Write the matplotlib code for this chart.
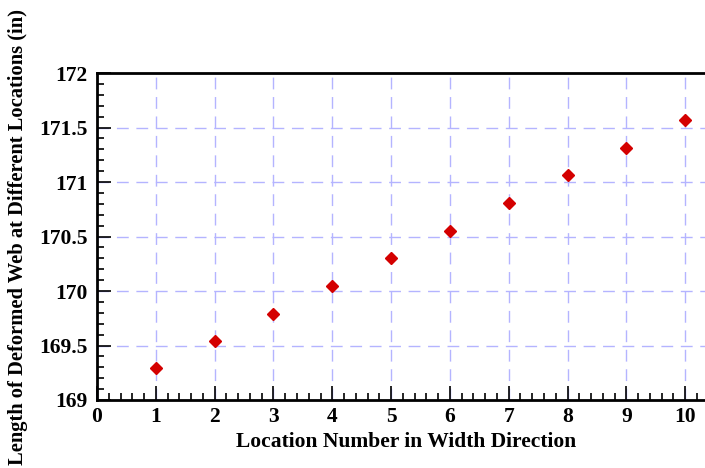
import matplotlib
matplotlib.use("Agg")
import matplotlib.pyplot as plt
from matplotlib.ticker import MultipleLocator

locations = [1, 2, 3, 4, 5, 6, 7, 8, 9, 10]
web_length = [169.29, 169.54, 169.79, 170.05, 170.30, 170.55, 170.81, 171.06, 171.31, 171.57]

plt.rcParams["font.family"] = ["Liberation Serif", "DejaVu Serif"]
plt.rcParams["font.weight"] = "bold"

fig = plt.figure(figsize=(7.05, 4.68), dpi=100)
ax = fig.add_axes([0.1376, 0.1453, 0.876, 0.6987])

ax.plot(locations, web_length, linestyle="none", marker="D", markersize=6,
        color="#d40000", markeredgecolor="#d40000", zorder=3)

ax.set_xlim(0, 10.5)
ax.set_ylim(169, 172)
ax.xaxis.set_major_locator(MultipleLocator(1))
ax.xaxis.set_minor_locator(MultipleLocator(0.2))
ax.yaxis.set_major_locator(MultipleLocator(0.5))
ax.yaxis.set_minor_locator(MultipleLocator(0.1))
ax.set_yticks([169, 169.5, 170, 170.5, 171, 171.5, 172])
ax.set_yticklabels(["169", "169.5", "170", "170.5", "171", "171.5", "172"])

ax.tick_params(which="both", direction="in", labelsize=15.5, width=1.2, color="black")
ax.tick_params(which="major", length=10, pad=7)
ax.tick_params(which="minor", length=5)
ax.tick_params(axis="x", which="major", pad=5)
for s in ["left", "bottom", "top"]:
    ax.spines[s].set_linewidth(2)
ax.spines["right"].set_visible(False)

ax.grid(True, which="major", color="#b4b4ff", linewidth=1, dashes=(8.5, 5.5))
ax.set_axisbelow(True)

ax.set_xlabel("Location Number in Width Direction", fontsize=15.5, fontweight="bold", labelpad=4)
ax.set_ylabel("Length of Deformed Web at Different Locations (in)", fontsize=14.8,
              fontweight="bold", labelpad=8)

fig.savefig("out.png", dpi=100)
